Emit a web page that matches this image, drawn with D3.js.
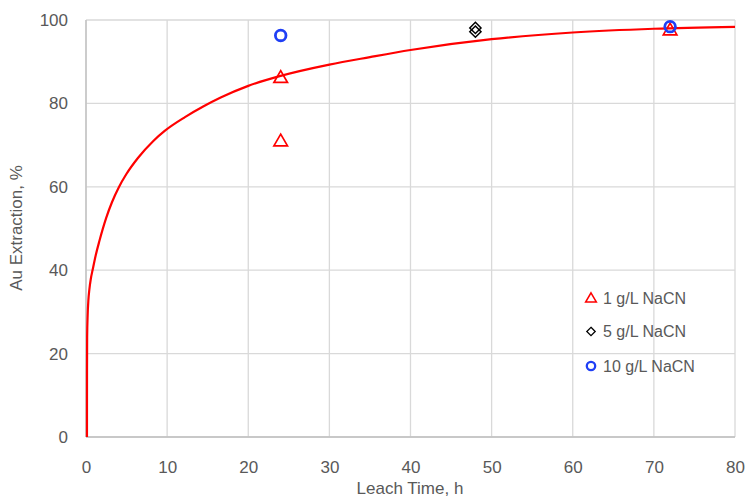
<!DOCTYPE html>
<html><head><meta charset="utf-8">
<script src="https://cdn.jsdelivr.net/npm/d3@7"></script>
<style>body{margin:0;background:#fff}svg{display:block}text{font-family:"Liberation Sans",Arial,sans-serif;fill:#595959}</style>
</head><body><svg id="c" width="747" height="499"></svg>
<script>
// fitted curve
const curveTime  = [0.12, 0.121, 0.125, 0.14, 0.2, 0.3, 0.41, 0.6, 0.82, 1.2, 1.65, 2.5, 3.2, 4.05, 4.96, 6.4, 8.3, 9.7, 12.2, 14.5, 16.6, 20, 24, 30, 35, 40, 50, 60, 70, 80];
const curveValue = [0, 8, 16, 24, 29, 33, 35.3, 38, 40.1, 43.6, 47.0, 52.6, 56.3, 59.9, 63.0, 66.9, 71.0, 73.4, 76.7, 79.3, 81.4, 84.2, 86.6, 89.3, 91.1, 92.8, 95.4, 97.0, 97.9, 98.35];
// measured points
const s1Time = [24, 24, 72];   const s1Value = [86.2, 71.0, 97.6];
const s5Time = [48, 48];       const s5Value = [98.1, 97.2];
const s10Time = [24, 72];      const s10Value = [96.3, 98.4];
const seriesNames = ["1 g/L NaCN", "5 g/L NaCN", "10 g/L NaCN"];
const xTicks = [0,10,20,30,40,50,60,70,80];
const yTicks = [0,20,40,60,80,100];

const svg = d3.select("#c");
const x = d3.scaleLinear().domain([0,80]).range([86,735]);
const y = d3.scaleLinear().domain([0,100]).range([437,20]);

// gridlines
svg.append("g").selectAll("line").data(xTicks).join("line")
  .attr("x1",d=>x(d)).attr("x2",d=>x(d)).attr("y1",y(0)).attr("y2",y(100))
  .attr("stroke","#d9d9d9").attr("stroke-width",1.3);
svg.append("g").selectAll("line").data(yTicks).join("line")
  .attr("x1",x(0)).attr("x2",x(80)).attr("y1",d=>y(d)).attr("y2",d=>y(d))
  .attr("stroke","#d9d9d9").attr("stroke-width",1.3);
// axis lines
svg.append("line").attr("x1",x(0)).attr("x2",x(0)).attr("y1",y(0)).attr("y2",y(100)).attr("stroke","#bfbfbf").attr("stroke-width",1.3);
svg.append("line").attr("x1",x(0)).attr("x2",x(80)).attr("y1",y(0)).attr("y2",y(0)).attr("stroke","#bfbfbf").attr("stroke-width",1.3);

// tick labels via axes
const xa = svg.append("g").attr("transform",`translate(0,${y(0)})`)
  .call(d3.axisBottom(x).tickValues(xTicks).tickSize(0).tickPadding(24));
const ya = svg.append("g").attr("transform",`translate(${x(0)},0)`)
  .call(d3.axisLeft(y).tickValues(yTicks).tickSize(0).tickPadding(18));
[xa,ya].forEach(g=>{g.select(".domain").remove();
  g.selectAll("text").attr("font-size",17).attr("fill","#595959").style("font-family","'Liberation Sans',Arial,sans-serif");});

// axis titles
svg.append("text").attr("x",410).attr("y",494).attr("text-anchor","middle").attr("font-size",17).text("Leach Time, h");
svg.append("text").attr("transform","translate(22,228) rotate(-90)").attr("text-anchor","middle").attr("font-size",17).text("Au Extraction, %");

// fitted curve
const cd = curveTime.map((t,i)=>[t,curveValue[i]]);
svg.append("path").datum(cd).attr("fill","none").attr("stroke","#ff0000").attr("stroke-width",2.2)
  .attr("d",d3.line().x(d=>x(d[0])).y(d=>y(d[1])).curve(d3.curveMonotoneX));

// markers
const tri = d3.symbol().type(d3.symbolTriangle);
const s1 = s1Time.map((t,i)=>[t,s1Value[i]]);
const s5 = s5Time.map((t,i)=>[t,s5Value[i]]);
const s10 = s10Time.map((t,i)=>[t,s10Value[i]]);
svg.append("g").selectAll("path").data(s1).join("path")
  .attr("d",tri.size(80)()).attr("transform",d=>`translate(${x(d[0])},${y(d[1])+1})`)
  .attr("fill","none").attr("stroke","#ff0000").attr("stroke-width",1.7);
svg.append("g").selectAll("path").data(s5).join("path")
  .attr("d",d3.symbol().type(d3.symbolDiamond2).size(80)()).attr("transform",d=>`translate(${x(d[0])},${y(d[1])})`)
  .attr("fill","none").attr("stroke","#000").attr("stroke-width",1.5);
svg.append("g").selectAll("circle").data(s10).join("circle")
  .attr("cx",d=>x(d[0])).attr("cy",d=>y(d[1])).attr("r",5.3)
  .attr("fill","none").attr("stroke","#1f3ff5").attr("stroke-width",2.8);

// legend
const lg = svg.append("g");
const ly = [298, 331.5, 366];
lg.append("path").attr("d",tri.size(50)()).attr("transform",`translate(591,${ly[0]+1})`).attr("fill","none").attr("stroke","#ff0000").attr("stroke-width",1.5);
lg.append("path").attr("d",d3.symbol().type(d3.symbolDiamond2).size(45)()).attr("transform",`translate(591,${ly[1]})`).attr("fill","none").attr("stroke","#000").attr("stroke-width",1.3);
lg.append("circle").attr("cx",591).attr("cy",ly[2]).attr("r",4.2).attr("fill","none").attr("stroke","#1f3ff5").attr("stroke-width",2.3);
lg.selectAll("text").data(seriesNames).join("text").attr("x",603).attr("y",(d,i)=>ly[i]).attr("dy","0.35em").attr("font-size",16).text(d=>d);
</script></body></html>
